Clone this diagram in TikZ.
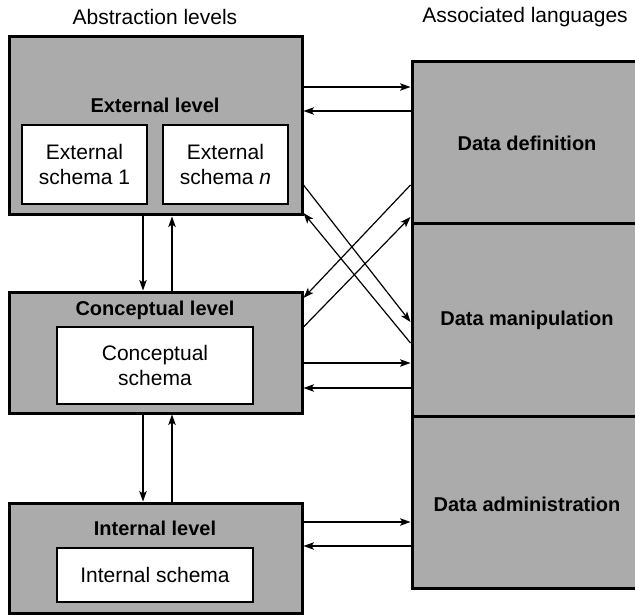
\documentclass[tikz,border=0pt]{standalone}
\usepackage{fontspec}
\setmainfont{Liberation Sans}
\usetikzlibrary{calc,arrows.meta}
\definecolor{shade}{gray}{0.67}
\newcommand{\regfont}{\fontsize{21}{25}\selectfont}
\newcommand{\boldfont}{\fontsize{20}{24}\selectfont\bfseries}
\begin{document}
\begin{tikzpicture}[x=1pt,y=-1pt]
\tikzset{
  levelbox/.style={draw=black, line width=3pt, fill=shade, inner sep=0pt},
  schemabox/.style={draw=black, line width=2.5pt, fill=white, inner sep=0pt,
    align=center, font=\regfont},
  title/.style={font=\regfont, inner sep=0pt},
  heading/.style={font=\boldfont, inner sep=0pt},
  link/.style={line width=1.2pt, -{Stealth[length=10.5pt,width=7.5pt,inset=2.5pt]}},
}
\clip (0,0) rectangle (635,615);

% column titles
\node[title] (tleft)  at (155,17) {Abstraction levels};
\node[title] (tright) at (525,17) {Associated languages};

% abstraction levels
\node[levelbox, minimum width=293pt, minimum height=178pt] (ext) at (155.5,126) {};
\node[heading] (extlab) at (155,105) {External level};
\node[schemabox, minimum width=125pt, minimum height=79pt] (es1) at (84.5,164.5)
  {External\\schema 1};
\node[schemabox, minimum width=125pt, minimum height=79pt] (esn) at (225.5,164.5)
  {External\\schema \textit{n}};

\node[levelbox, minimum width=293pt, minimum height=121pt] (con) at (155.5,352.5) {};
\node[heading] (conlab) at (155,310) {Conceptual level};
\node[schemabox, minimum width=196pt, minimum height=77pt] (cs) at (155,365.5)
  {Conceptual\\schema};

\node[levelbox, minimum width=293pt, minimum height=110pt] (int) at (155.5,558) {};
\node[heading] (intlab) at (155,528) {Internal level};
\node[schemabox, minimum width=196pt, minimum height=54pt] (is) at (155,575)
  {Internal schema};

% associated languages
\node[levelbox, minimum width=248pt, minimum height=161pt] (dd) at (536,142.5) {};
\node[levelbox, minimum width=248pt, minimum height=193pt] (dm) at (536,319.5) {};
\node[levelbox, minimum width=248pt, minimum height=172pt] (da) at (536,502) {};
\node[heading] (ddlab) at (527,143) {Data definition};
\node[heading] (dmlab) at (527,320) {Data manipulation};
\node[heading] (dalab) at (527,504) {Data administration};

% vertical links between levels
\draw[link] ($(ext.south)+(-12.5,0)$) -- ($(con.north)+(-12.5,0)$);
\draw[link] ($(con.north)+(16.5,0)$) -- ($(ext.south)+(16.5,0)$);
\draw[link] ($(con.south)+(-12.5,0)$) -- ($(int.north)+(-12.5,0)$);
\draw[link] ($(int.north)+(16.5,0)$) -- ($(con.south)+(16.5,0)$);

% external level <-> data definition
\draw[link] ($(ext.east)+(0,-39)$) -- ($(dd.west)+(0,-55.5)$);
\draw[link] ($(dd.west)+(0,-31.5)$) -- ($(ext.east)+(0,-15)$);

% crossing links
\draw[link] ($(ext.east)+(0,59)$) -- ($(dm.west)+(0,2.5)$);
\draw[link] ($(dm.west)+(0,23.5)$) -- ($(ext.east)+(0,87)$);
\draw[link] ($(dd.west)+(0,42.5)$) -- ($(con.east)+(0,-54.5)$);
\draw[link] ($(con.east)+(0,-25.5)$) -- ($(dd.west)+(0,74.5)$);

% conceptual level <-> data manipulation
\draw[link] ($(con.east)+(0,10.5)$) -- ($(dm.west)+(0,43.5)$);
\draw[link] ($(dm.west)+(0,68.5)$) -- ($(con.east)+(0,35.5)$);

% internal level <-> data administration
\draw[link] ($(int.east)+(0,-36)$) -- ($(da.west)+(0,20)$);
\draw[link] ($(da.west)+(0,44)$) -- ($(int.east)+(0,-12)$);
\end{tikzpicture}
\end{document}
